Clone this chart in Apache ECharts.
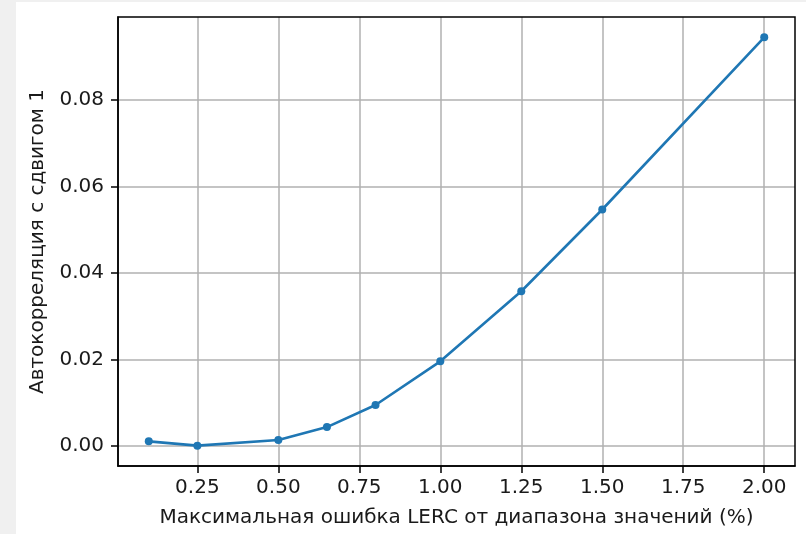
<!DOCTYPE html>
<html>
<head>
<meta charset="utf-8">
<script src="https://cdn.jsdelivr.net/npm/echarts@6/dist/echarts.min.js"></script>
<style>
  html, body { margin: 0; padding: 0; background: #f0f0f0; width: 806px; height: 534px; overflow: hidden; }
  #chart { position: absolute; left: 16px; top: 2px; width: 790px; height: 532px; background: #ffffff; }
</style>
</head>
<body>
<div id="chart"></div>
<script>
// Max LERC error as % of value range, and lag-1 autocorrelation of the residual
const errorPercent = [0.1, 0.25, 0.5, 0.65, 0.8, 1.0, 1.25, 1.5, 2.0];
const autocorr = [0.0011, 0.0001, 0.0014, 0.0044, 0.0095, 0.0196, 0.0358, 0.0547, 0.0945];

const xTicks = [0.25, 0.5, 0.75, 1.0, 1.25, 1.5, 1.75, 2.0];
const yTicks = [0.0, 0.02, 0.04, 0.06, 0.08];

const font = 'DejaVu Sans';
const textColor = '#1a1a1a';
const fontSize = 20;

const chart = echarts.init(document.getElementById('chart'), null, { renderer: 'canvas' });

chart.setOption({
  animation: false,
  backgroundColor: '#ffffff',
  grid: { left: 102, top: 15, width: 677, height: 449, show: false },
  xAxis: {
    type: 'value',
    min: 0.005,
    max: 2.095,
    name: 'Максимальная ошибка LERC от диапазона значений (%)',
    nameLocation: 'middle',
    nameGap: 42,
    nameTextStyle: { fontFamily: font, fontSize: fontSize, color: textColor },
    axisLine: { show: true, onZero: false, lineStyle: { color: '#000000', width: 1.5 } },
    axisTick: { show: true, length: 7, customValues: xTicks, lineStyle: { color: '#000000', width: 1.5 } },
    axisLabel: {
      customValues: xTicks,
      margin: 12,
      fontFamily: font, fontSize: fontSize, color: textColor,
      formatter: v => v.toFixed(2)
    },
    splitLine: { show: true, lineStyle: { color: '#b0b0b0', width: 1.5 } }
  },
  yAxis: {
    type: 'value',
    min: -0.0046,
    max: 0.0992,
    name: 'Автокорреляция с сдвигом 1',
    nameLocation: 'middle',
    nameGap: 70,
    nameTextStyle: { fontFamily: font, fontSize: fontSize, color: textColor },
    axisLine: { show: true, onZero: false, lineStyle: { color: '#000000', width: 1.5 } },
    axisTick: { show: true, length: 7, customValues: yTicks, lineStyle: { color: '#000000', width: 1.5 } },
    axisLabel: {
      customValues: yTicks,
      margin: 14,
      fontFamily: font, fontSize: fontSize, color: textColor,
      formatter: v => v.toFixed(2)
    },
    splitLine: { show: true, lineStyle: { color: '#b0b0b0', width: 1.5 } }
  },
  series: [{
    type: 'line',
    data: errorPercent.map((x, i) => [x, autocorr[i]]),
    symbol: 'circle',
    symbolSize: 8,
    lineStyle: { color: '#1f77b4', width: 2.6 },
    itemStyle: { color: '#1f77b4' },
    z: 3
  }]
});

// Right and top frame of the plotting area
const rect = chart.getModel().getComponent('grid').coordinateSystem.getRect();
chart.setOption({
  graphic: [{
    type: 'rect',
    shape: { x: rect.x, y: rect.y, width: rect.width, height: rect.height },
    style: { fill: 'none', stroke: '#000000', lineWidth: 1.5 },
    silent: true,
    z: 10
  }]
});
</script>
</body>
</html>
